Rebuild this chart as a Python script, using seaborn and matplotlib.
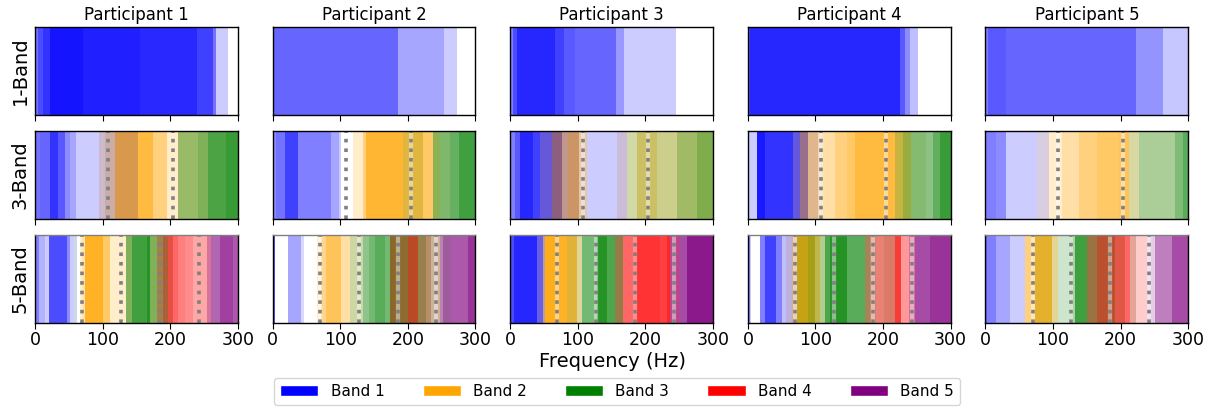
import matplotlib
matplotlib.use("Agg")
import matplotlib.pyplot as plt
from matplotlib.patches import Patch
import seaborn as sns

participants = ["Participant 1", "Participant 2", "Participant 3", "Participant 4", "Participant 5"]
row_labels = ["1-Band", "3-Band", "5-Band"]
band_names = ["Band 1", "Band 2", "Band 3", "Band 4", "Band 5"]
band_colors = ["blue", "orange", "green", "red", "purple"]
freq_ticks = [0, 100, 200, 300]
bounds_1 = []
bounds_3 = [108, 204]
bounds_5 = [69.6, 127.2, 184.8, 242.4]

# band weights per frequency segment: (upper edge in Hz, weight band 1, band 2, ...)
p1_1band = [(5, .55), (12, .7), (22, .8), (71, .92), (155, .88), (239, .84), (263, .75),
            (268, .55), (286, .2), (300, 0)]
p2_1band = [(185, .6), (254, .35), (273, .2), (300, 0)]
p3_1band = [(4, .5), (10, .7), (66, .85), (80, .75), (96, .65), (156, .6), (168, .4), (245, .2), (300, 0)]
p4_1band = [(3, .7), (225, .85), (232, .65), (240, .45), (252, .25), (300, 0)]
p5_1band = [(4, .5), (30, .65), (222, .6), (262, .42), (300, .22)]

p1_3band = [(7, .55, 0, 0), (22, .6, 0, 0), (34, .8, 0, 0), (44, .65, 0, 0), (52, .45, 0, 0),
            (61, .35, 0, 0), (94, .2, 0, 0), (103, .25, .2, 0), (118, .31, .35, 0),
            (153, .5, .7, 0), (175, 0, .75, 0), (195, 0, .5, 0), (212, 0, .2, 0),
            (241, 0, .33, .4), (256, 0, .3, .5), (283, 0, .1, .7), (300, 0, .05, .78)]
p2_3band = [(5, .45, 0, 0), (18, .55, 0, 0), (37, .75, 0, 0), (87, .5, 0, 0), (98, .35, 0, 0),
            (101, .2, 0, 0), (119, 0, 0, 0), (134, 0, .2, 0), (138, 0, .5, 0), (193, 0, .8, 0),
            (222, 0, .72, .12), (237, 0, .6, 0), (247, 0, .4, .45), (262, 0, .15, .5),
            (276, 0, .05, .6), (300, 0, 0, .75)]
p3_3band = [(7, .5, 0, 0), (15, .65, 0, 0), (34, .85, 0, 0), (44, .75, 0, 0), (62, .7, .15, 0),
            (76, .9, .5, 0), (86, .45, .45, 0), (101, .5, .6, 0), (114, .15, .35, 0),
            (158, .2, 0, 0), (172, .24, .15, 0), (187, 0, .2, .18), (217, 0, .5, .2),
            (246, 0, .31, .2), (276, 0, .37, .37), (300, 0, .4, .5)]
p4_3band = [(13, .2, 0, 0), (25, .9, 0, 0), (67, .8, 0, 0), (77, .7, .15, 0), (89, .73, .45, 0),
            (104, .22, .45, 0), (111, .07, .3, 0), (129, 0, .35, 0), (146, 0, .5, 0),
            (158, 0, .6, 0), (217, 0, .75, 0), (230, 0, .68, .22), (242, 0, .58, .4),
            (264, 0, .15, .48), (274, 0, .05, .45), (284, 0, .05, .62), (300, 0, 0, .78)]
p5_3band = [(15, .5, 0, 0), (30, .45, 0, 0), (76, .2, 0, 0), (94, .17, .12, 0), (113, 0, .2, 0),
            (138, 0, .35, 0), (165, 0, .5, 0), (197, 0, .6, 0), (213, 0, .65, 0),
            (227, 0, .25, .15), (281, 0, .1, .33), (293, 0, .05, .5), (300, 0, 0, .65)]

p1_5band = [(6, .5, 0, 0, 0, 0), (15, .3, 0, 0, 0, 0), (21, .2, 0, 0, 0, 0), (47, .7, 0, 0, 0, 0),
            (52, .45, 0, 0, 0, 0), (57, .2, 0, 0, 0, 0), (62, .1, 0, .1, 0, 0), (66, 0, 0, 0, 0, 0),
            (69, 0, .2, 0, 0, 0), (74, 0, .3, 0, 0, 0), (101, 0, .85, 0, 0, 0), (111, 0, .6, 0, 0, 0),
            (135, 0, .2, 0, 0, 0), (143, 0, .3, .5, 0, 0), (165, 0, 0, .75, 0, 0),
            (170, 0, 0, .85, 0, 0), (180, 0, .3, .5, 0, 0), (190, 0, .2, .5, .3, 0),
            (197, 0, 0, .6, .45, 0), (204, 0, 0, .25, .65, 0), (212, 0, 0, 0, .6, 0),
            (222, 0, 0, 0, .5, 0), (234, 0, 0, 0, .45, 0), (254, 0, 0, 0, .35, 0),
            (261, 0, 0, 0, .35, .3), (273, 0, 0, 0, 0, .6), (293, 0, 0, 0, 0, .75),
            (300, 0, 0, 0, 0, .65)]
p2_5band = [(4, .65, 0, 0, 0, 0), (23, 0, 0, 0, 0, 0), (42, .35, 0, 0, 0, 0), (46, .15, 0, 0, 0, 0),
            (65, 0, 0, 0, 0, 0), (72, 0, .2, 0, 0, 0), (79, 0, .45, 0, 0, 0), (101, 0, .65, 0, 0, 0),
            (114, 0, .35, 0, 0, 0), (133, 0, .2, .2, 0, 0), (143, 0, 0, .45, 0, 0),
            (151, 0, 0, .55, 0, 0), (166, 0, 0, .65, 0, 0), (173, 0, 0, .55, 0, 0),
            (183, 0, .2, .7, .35, 0), (200, 0, 0, .69, .35, 0), (215, 0, 0, .64, .58, 0),
            (227, 0, 0, .57, .3, 0), (234, 0, 0, .4, .3, 0), (247, 0, 0, .25, .2, 0),
            (252, 0, 0, .1, .1, .4), (264, 0, 0, .2, 0, .6), (289, 0, 0, 0, 0, .65),
            (300, 0, 0, 0, 0, .8)]
p3_5band = [(5, .7, 0, 0, 0, 0), (39, .85, 0, 0, 0, 0), (49, .65, .1, 0, 0, 0), (52, .4, .4, 0, 0, 0),
            (66, 0, .9, 0, 0, 0), (84, 0, .85, 0, 0, 0), (99, 0, .75, .12, 0, 0),
            (106, 0, .3, .12, 0, 0), (128, 0, 0, .55, 0, 0), (143, 0, 0, .85, 0, 0),
            (155, 0, 0, .7, 0, 0), (167, 0, 0, .6, .3, 0), (182, 0, 0, 0, .6, 0),
            (222, 0, 0, 0, .8, 0), (232, 0, 0, 0, .75, 0), (236, 0, 0, 0, .85, 0),
            (251, 0, 0, 0, .4, .55), (261, 0, 0, 0, 0, .7), (300, 0, 0, 0, 0, .9)]
p4_5band = [(3, .5, 0, 0, 0, 0), (5, .2, 0, 0, 0, 0), (18, 0, 0, 0, 0, 0), (25, .5, 0, 0, 0, 0),
            (42, .75, 0, 0, 0, 0), (50, .5, 0, 0, 0, 0), (57, .25, 0, 0, 0, 0), (65, .3, .15, 0, 0, 0),
            (72, .3, .45, 0, 0, 0), (89, 0, .9, .22, 0, 0), (99, 0, .85, .35, 0, 0),
            (106, 0, .6, .25, 0, 0), (114, 0, .2, .3, 0, 0), (121, 0, 0, .7, 0, 0),
            (146, 0, 0, .85, 0, 0), (173, 0, 0, .65, 0, 0), (180, 0, 0, .5, .3, 0),
            (190, 0, 0, .3, .4, 0), (202, 0, 0, .15, .45, 0), (217, 0, 0, .25, .45, 0),
            (227, 0, 0, .1, .75, 0), (239, 0, 0, 0, .4, 0), (247, 0, 0, 0, .4, .3),
            (269, 0, 0, 0, 0, .7), (300, 0, 0, 0, 0, .8)]
p5_5band = [(2, .6, 0, 0, 0, 0), (15, .5, 0, 0, 0, 0), (37, .35, 0, 0, 0, 0), (59, .2, 0, 0, 0, 0),
            (74, 0, .5, 0, 0, 0), (99, 0, .8, .1, 0, 0), (108, 0, .35, .1, 0, 0),
            (123, 0, 0, .2, 0, 0), (133, 0, 0, .35, 0, 0), (150, 0, 0, .75, 0, 0),
            (165, 0, 0, .6, .35, 0), (192, 0, 0, .6, .55, 0), (207, 0, 0, .3, .6, 0),
            (214, 0, 0, 0, .6, 0), (222, 0, 0, .15, .3, 0), (239, 0, 0, 0, .2, 0),
            (251, 0, 0, 0, 0, .2), (276, 0, 0, 0, 0, .5), (300, 0, 0, 0, 0, .7)]

weights = [
    [p1_1band, p2_1band, p3_1band, p4_1band, p5_1band],
    [p1_3band, p2_3band, p3_3band, p4_3band, p5_3band],
    [p1_5band, p2_5band, p3_5band, p4_5band, p5_5band],
]
bounds = [bounds_1, bounds_3, bounds_5]

sns.set_style("ticks", {"text.color": "black", "axes.labelcolor": "black",
                        "xtick.color": "black", "axes.edgecolor": "black"})
plt.rcParams["font.family"] = ["DejaVu Sans"]

fig, axes = plt.subplots(3, 5, figsize=(12.1, 4.08), dpi=100, sharex=True)
fig.subplots_adjust(left=0.029, right=0.982, top=0.934, bottom=0.208, wspace=0.172, hspace=0.18)

for r in range(3):
    for c in range(5):
        ax = axes[r, c]
        lo = 0
        for seg in weights[r][c]:
            hi = seg[0]
            for b, a in enumerate(seg[1:]):
                if a > 0:
                    ax.axvspan(lo, hi, color=band_colors[b], alpha=a, lw=0, antialiased=False)
            lo = hi
        for f in bounds[r]:
            if c > 0:
                ax.axvline(f, color="white", linewidth=3, alpha=0.45)
            ax.axvline(f, color="grey", linestyle=":", linewidth=2.6)
        ax.set_xlim(0, 300)
        ax.set_ylim(0, 1)
        ax.set_yticks([])
        ax.set_xticks(freq_ticks)
        ax.tick_params(axis="x", labelsize=12.5, length=4, pad=2, colors="black")
        for s in ax.spines.values():
            s.set_color("black")
            s.set_linewidth(1)
        if r == 2:
            ax.spines["top"].set_color("grey")
        if r == 0:
            ax.set_title(participants[c], fontsize=12, pad=5, color="black")
        if c == 0:
            ax.set_ylabel(row_labels[r], fontsize=14, labelpad=4, color="black")

fig.text(0.506, 0.113, "Frequency (Hz)", ha="center", va="center", fontsize=14, color="black")

handles = [Patch(facecolor=col, label=name) for col, name in zip(band_colors, band_names)]
fig.legend(handles=handles, loc="lower center", ncol=5, bbox_to_anchor=(0.51, -0.012),
           fontsize=11, frameon=True, columnspacing=2.5, handlelength=2.5)

fig.savefig("out.png", dpi=100, facecolor="white")
